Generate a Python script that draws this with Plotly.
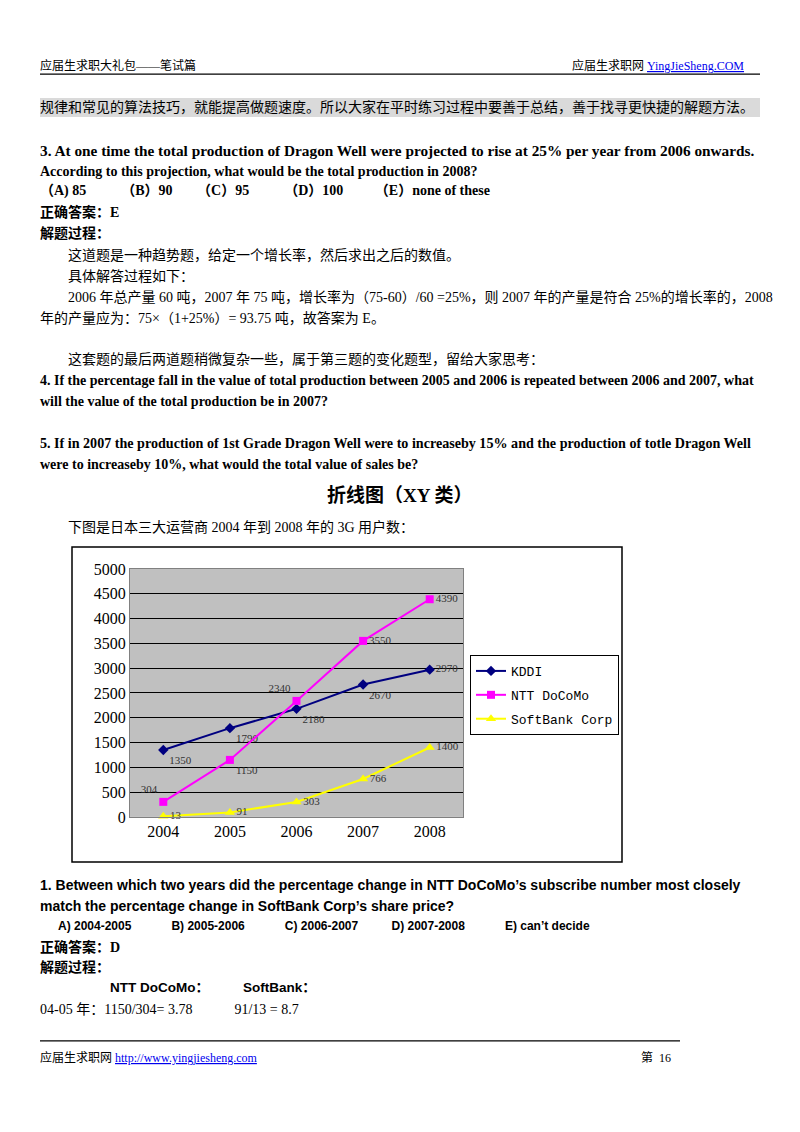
import plotly.graph_objects as go

# 3G subscribers (10k) of Japan's three carriers, 2004-2008
years = ["2004", "2005", "2006", "2007", "2008"]
kddi = [1350, 1790, 2180, 2670, 2970]
docomo = [304, 1150, 2340, 3550, 4390]
softbank = [13, 91, 303, 766, 1400]
y_ticks = [0, 500, 1000, 1500, 2000, 2500, 3000, 3500, 4000, 4500, 5000]

# the html body has an 8px margin, so the figure is made smaller to fit the page
OFF = 8
W, H = 800 - 2 * OFF, 1132 - 2 * OFF
SERIF = "Liberation Serif, Noto Sans CJK SC"
SANS = "Liberation Sans, Noto Sans CJK SC"
CHART_FONT = "Liberation Serif, DejaVu Serif"
MONO = "Liberation Mono, DejaVu Sans Mono"


def px(x):
    return (x - OFF) / W


def py(y):
    # page position (px from top) -> paper fraction, small correction for page scaling
    y = (y - 8) / 0.985
    return 1 - (y - OFF) / H


fig = go.Figure()
xs = list(range(len(years)))

fig.add_trace(go.Scatter(
    x=xs, y=kddi, name="KDDI", mode="lines+markers+text", legendgroup="a",
    line=dict(color="#000080", width=2),
    marker=dict(symbol="diamond", size=8, color="#000080"),
    text=[str(v) for v in kddi],
    textposition=["bottom right", "bottom right", "bottom right", "bottom right", "middle right"],
))
fig.add_trace(go.Scatter(
    x=xs, y=docomo, name="NTT DoCoMo", mode="lines+markers+text", legendgroup="b",
    line=dict(color="#FF00FF", width=2),
    marker=dict(symbol="square", size=8, color="#FF00FF"),
    text=[str(v) for v in docomo],
    textposition=["top left", "bottom right", "top left", "middle right", "middle right"],
))
fig.add_trace(go.Scatter(
    x=xs, y=softbank, name="SoftBank Corp", mode="lines+markers+text", legendgroup="c",
    line=dict(color="#FFFF00", width=2),
    marker=dict(symbol="triangle-up", size=9, color="#FFFF00"),
    text=[str(v) for v in softbank],
    textposition="middle right",
))
fig.update_traces(textfont=dict(family=CHART_FONT, size=11, color="#333333"), cliponaxis=False)

fig.update_xaxes(
    domain=[px(130), px(463)], range=[-0.5, 4.5],
    tickvals=xs, ticktext=years, ticks="", showgrid=False,
    showline=True, linecolor="#808080", mirror=True, zeroline=False,
    tickfont=dict(family=CHART_FONT, size=16, color="#000"),
)
fig.update_yaxes(
    domain=[py(817), py(569)], range=[0, 5000],
    tickvals=y_ticks, showgrid=True, gridcolor="#000", gridwidth=1,
    showline=True, linecolor="#808080", mirror=True, zeroline=False,
    tickfont=dict(family=CHART_FONT, size=16, color="#000"),
)

shapes = [
    dict(type="rect", xref="paper", yref="paper", x0=px(72), x1=px(622), y0=py(862), y1=py(547),
         line=dict(color="#000", width=1.5), layer="below"),
    dict(type="line", xref="paper", yref="paper", x0=px(40), x1=px(760), y0=py(74), y1=py(74),
         line=dict(color="#000", width=1.2)),
    dict(type="rect", xref="paper", yref="paper", x0=px(40), x1=px(760), y0=py(117), y1=py(98),
         fillcolor="#DADADA", line=dict(width=0), layer="below"),
    dict(type="line", xref="paper", yref="paper", x0=px(40), x1=px(680), y0=py(1041), y1=py(1041),
         line=dict(color="#000", width=1.2)),
]

texts = [
    (38, 65, "应届生求职大礼包——笔试篇", SERIF, 12, "left"),
    (746, 65, "应届生求职网 <span style='color:#0000EE'><u>YingJieSheng.COM</u></span>", SERIF, 12, "right"),
    (38, 107, "规律和常见的算法技巧，就能提高做题速度。所以大家在平时练习过程中要善于总结，善于找寻更快捷的解题方法。", SERIF, 14, "left"),
    (38, 150, "<b>3. At one time the total production of Dragon Well were projected to rise at 25% per year from 2006 onwards.</b>", SERIF, 15.3, "left"),
    (38, 171, "<b>According to this projection, what would be the total production in 2008?</b>", SERIF, 14, "left"),
    (38, 191, "<b>（A) 85          （B）90       （C）95          （D）100         （E）none of these</b>", SERIF, 14, "left"),
    (38, 212, "<b>正确答案：E</b>", SERIF, 14, "left"),
    (38, 233, "<b>解题过程：</b>", SERIF, 14, "left"),
    (66, 255, "这道题是一种趋势题，给定一个增长率，然后求出之后的数值。", SERIF, 14, "left"),
    (66, 276, "具体解答过程如下：", SERIF, 14, "left"),
    (66, 297, "2006 年总产量 60 吨，2007 年 75 吨，增长率为（75-60）/60 =25%，则 2007 年的产量是符合 25%的增长率的，2008", SERIF, 14, "left"),
    (38, 318, "年的产量应为：75×（1+25%）= 93.75 吨，故答案为 E。", SERIF, 14, "left"),
    (66, 359, "这套题的最后两道题稍微复杂一些，属于第三题的变化题型，留给大家思考：", SERIF, 14, "left"),
    (38, 380, "<b>4. If the percentage fall in the value of total production between 2005 and 2006 is repeated between 2006 and 2007, what</b>", SERIF, 14, "left"),
    (38, 401, "<b>will the value of the total production be in 2007?</b>", SERIF, 14, "left"),
    (38, 443, "<b>5. If in 2007 the production of 1st Grade Dragon Well were to increaseby 15% and the production of totle Dragon Well</b>", SERIF, 14.1, "left"),
    (38, 464, "<b>were to increaseby 10%, what would the total value of sales be?</b>", SERIF, 14, "left"),
    (400, 495, "<b>折线图（XY 类）</b>", SERIF, 19, "center"),
    (66, 527, "下图是日本三大运营商 2004 年到 2008 年的 3G 用户数：", SERIF, 14, "left"),
    (38, 885, "<b>1. Between which two years did the percentage change in NTT DoCoMo’s subscribe number most closely</b>", SANS, 14, "left"),
    (38, 906, "<b>match the percentage change in SoftBank Corp’s share price?</b>", SANS, 14, "left"),
    (56, 926, "<b>A) 2004-2005            B) 2005-2006            C) 2006-2007          D) 2007-2008            E) can’t decide</b>", SANS, 12, "left"),
    (38, 947, "<b>正确答案：D</b>", SERIF, 14, "left"),
    (38, 968, "<b>解题过程：</b>", SERIF, 14, "left"),
    (108, 988, "<b>NTT DoCoMo：</b>", SANS, 13.5, "left"),
    (241, 988, "<b>SoftBank：</b>", SANS, 13.5, "left"),
    (38, 1010, "04-05 年：1150/304= 3.78            91/13 = 8.7", SERIF, 14, "left"),
    (38, 1058, "应届生求职网 <span style='color:#0000EE'><u>http://www.yingjiesheng.com</u></span>", SERIF, 12, "left"),
    (673, 1058, "第  16", SERIF, 12, "right"),
]
annotations = [
    dict(x=px(x), y=py(y), xref="paper", yref="paper", text=t, showarrow=False,
         xanchor=a, yanchor="middle", font=dict(family=f, size=s, color="#000"))
    for x, y, t, f, s, a in texts
]

fig.update_layout(
    width=W, height=H, margin=dict(l=0, r=0, t=0, b=0),
    paper_bgcolor="white", plot_bgcolor="#C0C0C0",
    showlegend=True,
    legend=dict(x=px(470), y=py(655), xanchor="left", yanchor="top",
                bgcolor="white", bordercolor="#000", borderwidth=1,
                font=dict(family=MONO, size=13, color="#000"),
                tracegroupgap=4),
    shapes=shapes, annotations=annotations,
)

fig.write_html("out.html")
